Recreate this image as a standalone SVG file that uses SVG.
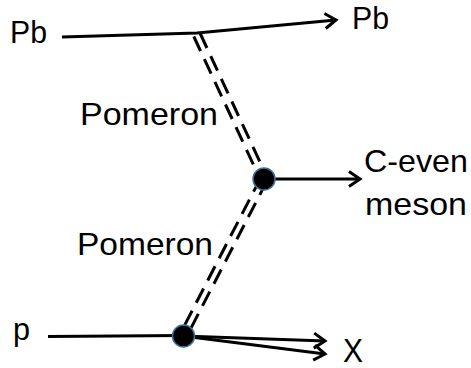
<svg xmlns="http://www.w3.org/2000/svg" width="471" height="368" viewBox="0 0 471 368">
  <defs>
    <marker id="arr" markerUnits="userSpaceOnUse" markerWidth="22" markerHeight="22" refX="13" refY="9" orient="auto" viewBox="0 0 22 18">
      <path d="M2,1.5 L13,9 L2,16.5" fill="none" stroke="#000" stroke-width="3" stroke-linejoin="miter"/>
    </marker>
  </defs>
  <style>
    .t { font-family: "Liberation Sans", Arial, sans-serif; font-size: 32px; fill: #000; }
    .ln { stroke: #000; stroke-width: 3; fill: none; }
    .pom { stroke: #000; stroke-width: 3; fill: none; stroke-dasharray: 16 9; }
    .vtx { fill: #000; stroke: #41719C; stroke-width: 1.5; }
  </style>
  <rect width="471" height="368" fill="#fff"/>
  <g id="connectors">
    <polyline class="ln" points="62,37 197,33 336,20" marker-end="url(#arr)"/>
    <line class="pom" x1="200.2" y1="33.5" x2="267.2" y2="177.5"/>
    <line class="pom" x1="193.8" y1="36.5" x2="260.8" y2="180.5"/>
    <line class="pom" x1="267.1" y1="180.6" x2="186.1" y2="337.6"/>
    <line class="pom" x1="260.9" y1="177.4" x2="179.9" y2="334.4"/>
    <line class="ln" x1="275" y1="179" x2="360" y2="179" marker-end="url(#arr)"/>
    <line class="ln" x1="48" y1="336.5" x2="183" y2="335.5"/>
    <line class="ln" x1="183" y1="336" x2="325" y2="341" marker-end="url(#arr)"/>
    <line class="ln" x1="183" y1="336" x2="325" y2="354" marker-end="url(#arr)"/>
  </g>
  <g id="vertex-mid"><circle class="vtx" cx="264" cy="179" r="11"/></g>
  <g id="vertex-low"><circle class="vtx" cx="183.5" cy="336" r="11"/></g>
  <g id="pb-in"><text class="t" x="10" y="43" textLength="37" lengthAdjust="spacingAndGlyphs">Pb</text></g>
  <g id="pb-out"><text class="t" x="352" y="29" textLength="37" lengthAdjust="spacingAndGlyphs">Pb</text></g>
  <g id="pomeron-up"><text class="t" x="80" y="125" textLength="138" lengthAdjust="spacingAndGlyphs">Pomeron</text></g>
  <g id="pomeron-low"><text class="t" x="77" y="255" textLength="136" lengthAdjust="spacingAndGlyphs">Pomeron</text></g>
  <g id="meson">
    <text class="t" x="364" y="172" textLength="104" lengthAdjust="spacingAndGlyphs">C-even</text>
    <text class="t" x="365" y="215" textLength="102" lengthAdjust="spacingAndGlyphs">meson</text>
  </g>
  <g id="p-in"><text class="t" x="13" y="340" textLength="17" lengthAdjust="spacingAndGlyphs">p</text></g>
  <g id="x-out"><text class="t" x="343" y="362" style="font-size:34px" textLength="20" lengthAdjust="spacingAndGlyphs">X</text></g>
</svg>
